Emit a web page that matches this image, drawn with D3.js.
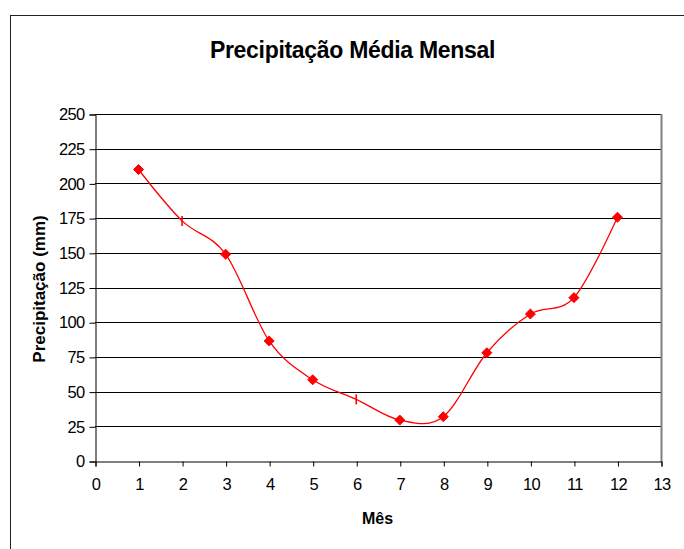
<!DOCTYPE html>
<html>
<head>
<meta charset="utf-8">
<script src="https://cdn.jsdelivr.net/npm/d3@7"></script>
<style>
  html, body { margin: 0; padding: 0; background: #fff; }
  svg { display: block; }
  text { font-family: "Liberation Sans", Arial, sans-serif; fill: #000; }
</style>
</head>
<body>
<svg id="chart" width="684" height="549"></svg>
<script>
// ---- data ----
const months = [1, 2, 3, 4, 5, 6, 7, 8, 9, 10, 11, 12];
const precipitation = [210, 173, 149, 86.5, 58.5, 44.4, 29.5, 31.9, 78, 105.9, 117.7, 175.6];
const markerTypes = ["diamond", "dash", "diamond", "diamond", "diamond", "dash", "diamond", "diamond", "diamond", "diamond", "diamond", "diamond"];
const xTicks = [0, 1, 2, 3, 4, 5, 6, 7, 8, 9, 10, 11, 12, 13];
const yTicks = [0, 25, 50, 75, 100, 125, 150, 175, 200, 225, 250];
const titleText = "Precipitação Média Mensal";
const xTitle = "Mês";
const yTitle = "Precipitação (mm)";

(function () {
const points = months.map((m, i) => ({ x: m, y: precipitation[i], type: markerTypes[i] }));

const svg = d3.select("#chart");
const W = 684, H = 549;

// outer chart border (extends beyond right/bottom edge)
svg.append("rect")
  .attr("x", 10.5).attr("y", 15.5)
  .attr("width", W + 20).attr("height", H + 20)
  .attr("fill", "#fff").attr("stroke", "#222").attr("stroke-width", 1);

const pL = 95, pR = 661, pT = 114, pB = 461;
const x = d3.scaleLinear().domain([0, 13]).range([pL, pR]);
const y = d3.scaleLinear().domain([0, 250]).range([pB, pT]);

// gridlines
svg.append("g")
  .selectAll("line")
  .data(yTicks.filter(d => d > 0))
  .join("line")
  .attr("x1", pL).attr("x2", pR)
  .attr("y1", d => Math.round(y(d)) + 0.5).attr("y2", d => Math.round(y(d)) + 0.5)
  .attr("stroke", "#000").attr("stroke-width", 1);

// right border of plot area
svg.append("line")
  .attr("x1", pR + 0.5).attr("x2", pR + 0.5)
  .attr("y1", pT).attr("y2", pB + 1)
  .attr("stroke", "#808080").attr("stroke-width", 2);

// y axis
const yAxis = svg.append("g")
  .attr("transform", `translate(${pL + 0.5},0.5)`)
  .call(d3.axisLeft(y).tickValues(yTicks).tickSize(6).tickPadding(5).tickFormat(d3.format("d")));
yAxis.select(".domain").attr("stroke", "#000");
yAxis.selectAll(".tick line").attr("stroke", "#000");
yAxis.selectAll("text")
  .attr("font-size", 16.5).attr("letter-spacing", "-0.7px")
  .attr("font-family", "Liberation Sans, Arial, sans-serif").attr("fill", "#000");

// x axis
const xAxis = svg.append("g")
  .attr("transform", `translate(0.5,${pB + 0.5})`)
  .call(d3.axisBottom(x).tickValues(xTicks).tickSize(5).tickPadding(12).tickFormat(d3.format("d")));
xAxis.select(".domain").attr("stroke", "#000");
xAxis.selectAll(".tick line").attr("stroke", "#000");
xAxis.selectAll("text")
  .attr("font-size", 16.5).attr("letter-spacing", "-0.7px")
  .attr("font-family", "Liberation Sans, Arial, sans-serif").attr("fill", "#000");

// smooth line
const line = d3.line()
  .x(d => x(d.x)).y(d => y(d.y))
  .curve(d3.curveCatmullRom.alpha(0));
svg.append("path")
  .datum(points)
  .attr("d", line)
  .attr("fill", "none").attr("stroke", "#FF0000").attr("stroke-width", 1.3);

// markers
const diamond = d3.symbol().type(d3.symbolDiamond2).size(64);
svg.append("g").selectAll("path")
  .data(points.filter(p => p.type === "diamond"))
  .join("path")
  .attr("transform", d => `translate(${x(d.x)},${y(d.y)})`)
  .attr("d", diamond)
  .attr("fill", "#FF0000").attr("stroke", "#FF0000").attr("stroke-width", 1);

svg.append("g").selectAll("line")
  .data(points.filter(p => p.type === "dash"))
  .join("line")
  .attr("x1", d => x(d.x)).attr("x2", d => x(d.x))
  .attr("y1", d => y(d.y) - 5).attr("y2", d => y(d.y) + 5)
  .attr("stroke", "#FF0000").attr("stroke-width", 1.6);

// titles
svg.append("text")
  .attr("x", 352.5).attr("y", 58)
  .attr("text-anchor", "middle")
  .attr("font-size", 23).attr("font-weight", "bold").attr("letter-spacing", "-0.3px")
  .text(titleText);

svg.append("text")
  .attr("x", 377.5).attr("y", 524)
  .attr("text-anchor", "middle")
  .attr("font-size", 16).attr("font-weight", "bold")
  .text(xTitle);

svg.append("text")
  .attr("transform", `translate(45,289) rotate(-90)`)
  .attr("text-anchor", "middle")
  .attr("font-size", 17).attr("font-weight", "bold")
  .text(yTitle);
})();
</script>
</body>
</html>
